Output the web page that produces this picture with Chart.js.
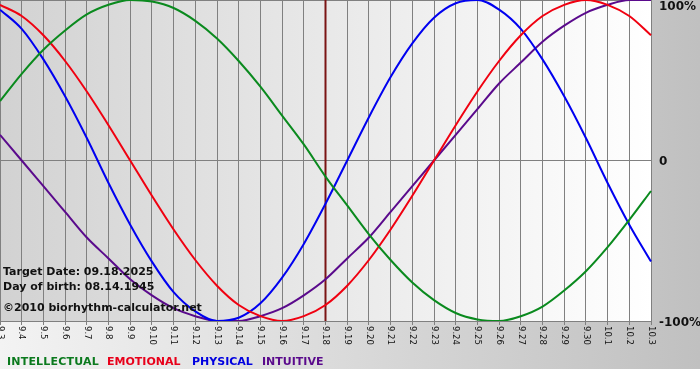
<!DOCTYPE html>
<html>
<head>
<meta charset="utf-8">
<script src="https://cdn.jsdelivr.net/npm/chart.js@4.4.1/dist/chart.umd.min.js"></script>
<style>
  body { margin: 0; background: #fff; }
  #wrap { position: relative; width: 700px; height: 380px; overflow: hidden; }
  #frame { position: absolute; left: 0; top: 0; width: 700px; height: 369px;
           background: linear-gradient(to right, #f3f3f3, #c0c0c0); }
  #myChart { position: absolute; left: 0; top: 0; }
  .txt { position: absolute; font: bold 11px "DejaVu Sans", Verdana, sans-serif;
         line-height: 11px; white-space: nowrap; color: #111; }
</style>
</head>
<body>
<div id="wrap">
  <div id="frame"></div>
  <canvas id="myChart" width="700" height="380"></canvas>
  <div class="txt" style="left:3px; top:266px;">Target Date: 09.18.2025</div>
  <div class="txt" style="left:3px; top:281px;">Day of birth: 08.14.1945</div>
  <div class="txt" style="left:3px; top:302px;">©2010 biorhythm-calculator.net</div>
  <div class="txt" style="left:7px; top:356px; color:#0b7a1e; letter-spacing:0.2px;">INTELLECTUAL</div>
  <div class="txt" style="left:107px; top:356px; color:#e8001a;">EMOTIONAL</div>
  <div class="txt" style="left:192px; top:356px; color:#0000e0;">PHYSICAL</div>
  <div class="txt" style="left:262px; top:356px; color:#5a0a8c;">INTUITIVE</div>
</div>
<script>
// days shown on the x axis
const labels = ['9.3', '9.4', '9.5', '9.6', '9.7', '9.8', '9.9', '9.10', '9.11', '9.12',
  '9.13', '9.14', '9.15', '9.16', '9.17', '9.18', '9.19', '9.20', '9.21', '9.22',
  '9.23', '9.24', '9.25', '9.26', '9.27', '9.28', '9.29', '9.30', '10.1', '10.2', '10.3'];

// cycle values, -1 .. 1
const intellectual = [0.37, 0.54, 0.69, 0.81, 0.91, 0.97, 1.00, 0.99, 0.95, 0.87,
  0.76, 0.62, 0.46, 0.28, 0.10, -0.10, -0.28, -0.46, -0.62, -0.76,
  -0.87, -0.95, -0.99, -1.00, -0.97, -0.91, -0.81, -0.69, -0.54, -0.37, -0.19];
const emotional = [0.97, 0.90, 0.78, 0.62, 0.43, 0.22, 0.00, -0.22, -0.43, -0.62,
  -0.78, -0.90, -0.97, -1.00, -0.97, -0.90, -0.78, -0.62, -0.43, -0.22,
  0.00, 0.22, 0.43, 0.62, 0.78, 0.90, 0.97, 1.00, 0.97, 0.90, 0.78];
const physical = [0.94, 0.82, 0.63, 0.40, 0.14, -0.14, -0.40, -0.63, -0.82, -0.94,
  -1.00, -0.98, -0.89, -0.73, -0.52, -0.27, 0.00, 0.27, 0.52, 0.73,
  0.89, 0.98, 1.00, 0.94, 0.82, 0.63, 0.40, 0.14, -0.14, -0.40, -0.63];
const intuitive = [0.16, 0.00, -0.16, -0.32, -0.48, -0.61, -0.74, -0.84, -0.92, -0.97,
  -1.00, -1.00, -0.97, -0.92, -0.84, -0.74, -0.61, -0.48, -0.32, -0.16,
  0.00, 0.16, 0.32, 0.48, 0.61, 0.74, 0.84, 0.92, 0.97, 1.00, 1.00];

const yTickValues = [1, 0, -1];
const yTickLabels = ['100%', '0', '-100%'];
const targetDay = '9.18';

// background, target marker, rotated day labels, right % labels
const decor = {
  id: 'decor',
  beforeDraw(chart) {
    const { ctx, chartArea: a } = chart;
    const g = ctx.createLinearGradient(a.left, 0, a.right, 0);
    g.addColorStop(0, '#d2d2d2');
    g.addColorStop(1, '#ffffff');
    ctx.save();
    ctx.fillStyle = g;
    ctx.fillRect(a.left, a.top, a.right - a.left, a.bottom - a.top);
    ctx.restore();
  },
  beforeDatasetsDraw(chart) {
    const { ctx, chartArea: a, scales } = chart;
    const x = scales.x.getPixelForValue(labels.indexOf(targetDay));
    ctx.save();
    ctx.strokeStyle = '#7a1414';
    ctx.lineWidth = 2;
    ctx.beginPath();
    ctx.moveTo(x, a.top);
    ctx.lineTo(x, a.bottom);
    ctx.stroke();
    ctx.restore();
  },
  afterDraw(chart) {
    const { ctx, chartArea: a, scales } = chart;
    ctx.save();
    ctx.fillStyle = '#111';
    ctx.font = '8.5px "DejaVu Sans", sans-serif';
    ctx.textAlign = 'left';
    ctx.textBaseline = 'middle';
    labels.forEach((l, i) => {
      const x = scales.x.getPixelForValue(i);
      ctx.save();
      ctx.translate(x, a.bottom + 5);
      ctx.rotate(Math.PI / 2);
      ctx.fillText(l, 0, 0);
      ctx.restore();
    });
    ctx.font = 'bold 12px "DejaVu Sans", sans-serif';
    yTickValues.forEach((v, i) => {
      let y = scales.y.getPixelForValue(v) + 1.5;
      if (y < a.top + 7) y = a.top + 7;
      ctx.fillText(yTickLabels[i], a.right + 8, y);
    });
    ctx.restore();
  }
};

const data = {
  labels: labels,
  datasets: [
    { label: 'INTELLECTUAL', data: intellectual, borderColor: '#0a8a1e' },
    { label: 'EMOTIONAL', data: emotional, borderColor: '#f00010' },
    { label: 'PHYSICAL', data: physical, borderColor: '#0000f0' },
    { label: 'INTUITIVE', data: intuitive, borderColor: '#5a0a8c' }
  ]
};

const config = {
  type: 'line',
  data: data,
  options: {
    responsive: false,
    animation: false,
    layout: { padding: 0 },
    elements: {
      point: { radius: 0 },
      line: { borderWidth: 2, cubicInterpolationMode: 'monotone', fill: false }
    },
    plugins: { legend: { display: false }, tooltip: { enabled: false } },
    scales: {
      x: {
        offset: false,
        ticks: { display: false },
        grid: { color: '#808080', lineWidth: 1, drawTicks: true, tickLength: 4 },
        border: { color: '#808080' },
        afterFit(s) { s.height = 59; }
      },
      y: {
        position: 'right',
        min: -1,
        max: 1,
        ticks: { display: false, stepSize: 1 },
        grid: { color: '#808080', lineWidth: 1, drawTicks: false },
        border: { color: '#808080' },
        afterFit(s) { s.width = 49; s.paddingTop = 0; s.paddingBottom = 0; }
      }
    }
  },
  plugins: [decor]
};

const myChart = new Chart(document.getElementById('myChart'), config);
</script>
</body>
</html>
